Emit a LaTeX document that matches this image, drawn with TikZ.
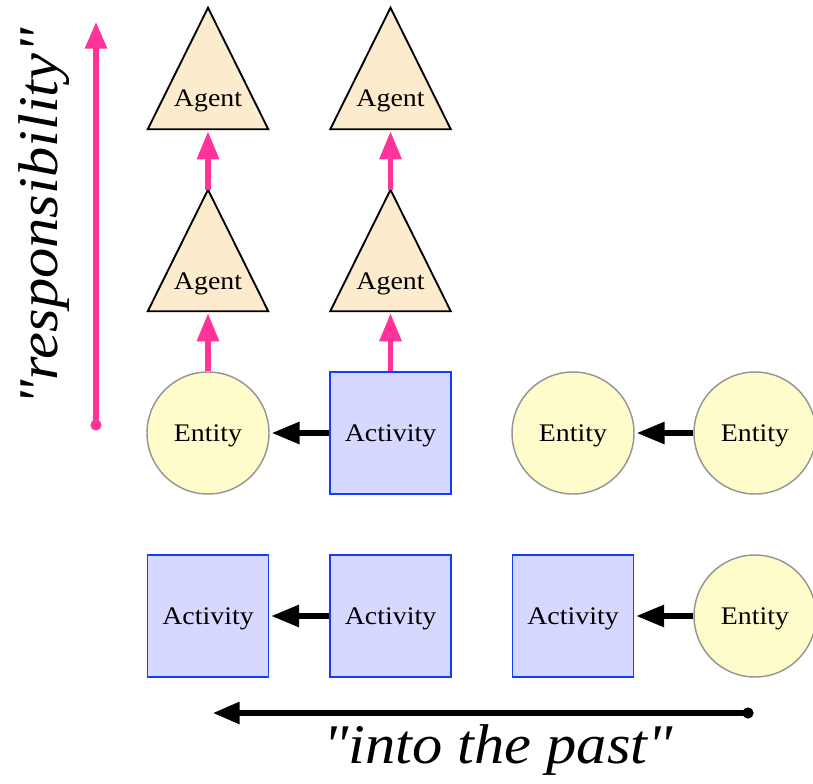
\documentclass[tikz,border=0pt]{standalone}
\usepackage{fontspec}
\setmainfont[FakeStretch=1.1]{Liberation Serif}
\newfontfamily\bigfont[FakeStretch=1.08]{Liberation Serif}
\usetikzlibrary{arrows.meta,backgrounds}
\definecolor{pinkc}{RGB}{255,51,153}
\definecolor{entfill}{RGB}{255,252,204}
\definecolor{entdraw}{RGB}{150,150,150}
\definecolor{actfill}{RGB}{214,216,255}
\definecolor{actdraw}{RGB}{20,60,255}
\definecolor{agfill}{RGB}{253,235,205}
\begin{document}
\begin{tikzpicture}[x=0.75pt,y=-0.75pt,
  lbl/.style={font=\fontsize{19}{21}\selectfont},
  entity/.style={lbl,circle,draw=entdraw,fill=entfill,line width=1.1pt,minimum size=91.5pt,inner sep=0pt,text height=17pt,text depth=4pt},
  activity/.style={lbl,rectangle,draw=actdraw,fill=actfill,line width=1.1pt,minimum width=90.75pt,minimum height=91.5pt,inner sep=0pt,text height=17pt,text depth=4pt},
  agent/.style={lbl,rectangle,minimum width=90pt,minimum height=90.75pt,inner sep=0pt,text height=74.25pt,text depth=16.5pt},
  agtri/.style={draw=black,fill=agfill,line width=1.4pt,line join=miter},
  blk/.style={draw=black,line width=4pt,-{Triangle[length=21pt,width=16pt]},shorten >=1.5pt},
  pnk/.style={draw=pinkc,line width=3.8pt,-{Triangle[length=21pt,width=16pt]},shorten >=1.5pt},
  big/.style={font=\bigfont\fontsize{42}{45}\selectfont\itshape}]
\useasboundingbox (0,0) rectangle (813,784);

% agents
\node[agent] (g1) at (208,68.5) {Agent};
\node[agent] (g2) at (208,250.5) {Agent};
\node[agent] (g3) at (390.5,68.5) {Agent};
\node[agent] (g4) at (390.5,250.5) {Agent};
\begin{scope}[on background layer]
  \foreach \g in {g1,g2,g3,g4}{
    \path[agtri] (\g.north) -- (\g.south east) -- (\g.south west) -- cycle;
  }
\end{scope}

% row 1
\node[entity] (e1) at (208,433) {Entity};
\node[activity] (a1) at (390.5,433) {Activity};
\node[entity] (e2) at (573,433) {Entity};
\node[entity] (e3) at (755,433) {Entity};

% row 2
\node[activity] (a2) at (208,616) {Activity};
\node[activity] (a3) at (390.5,616) {Activity};
\node[activity] (a4) at (573,616) {Activity};
\node[entity] (e4) at (755,616) {Entity};

% black arrows
\draw[blk] (a1) -- (e1);
\draw[blk] (e3) -- (e2);
\draw[blk] (a3) -- (a2);
\draw[blk] (e4) -- (a4);

% pink arrows
\draw[pnk] (e1.north) -- (g2.south);
\draw[pnk] (g2.north) -- (g1.south);
\draw[pnk] (a1.north) -- (g4.south);
\draw[pnk] (g4.north) -- (g3.south);

% responsibility axis
\coordinate (rs) at (96,425);
\coordinate (re) at (96,22);
\fill[pinkc] (rs) circle (4.2pt);
\draw[draw=pinkc,line width=3.8pt,-{Triangle[length=20pt,width=16pt]}] (rs) -- (re);
\node[big,rotate=90] (rl) at (44,217) {"responsibility"};

% past axis
\coordinate (ps) at (748,713);
\coordinate (pe) at (213,713);
\fill[black] (ps) circle (4.2pt);
\draw[draw=black,line width=3.8pt,-{Triangle[length=20pt,width=16pt]}] (ps) -- (pe);
\node[big] (pl) at (498,750) {"into the past"};
\end{tikzpicture}
\end{document}
